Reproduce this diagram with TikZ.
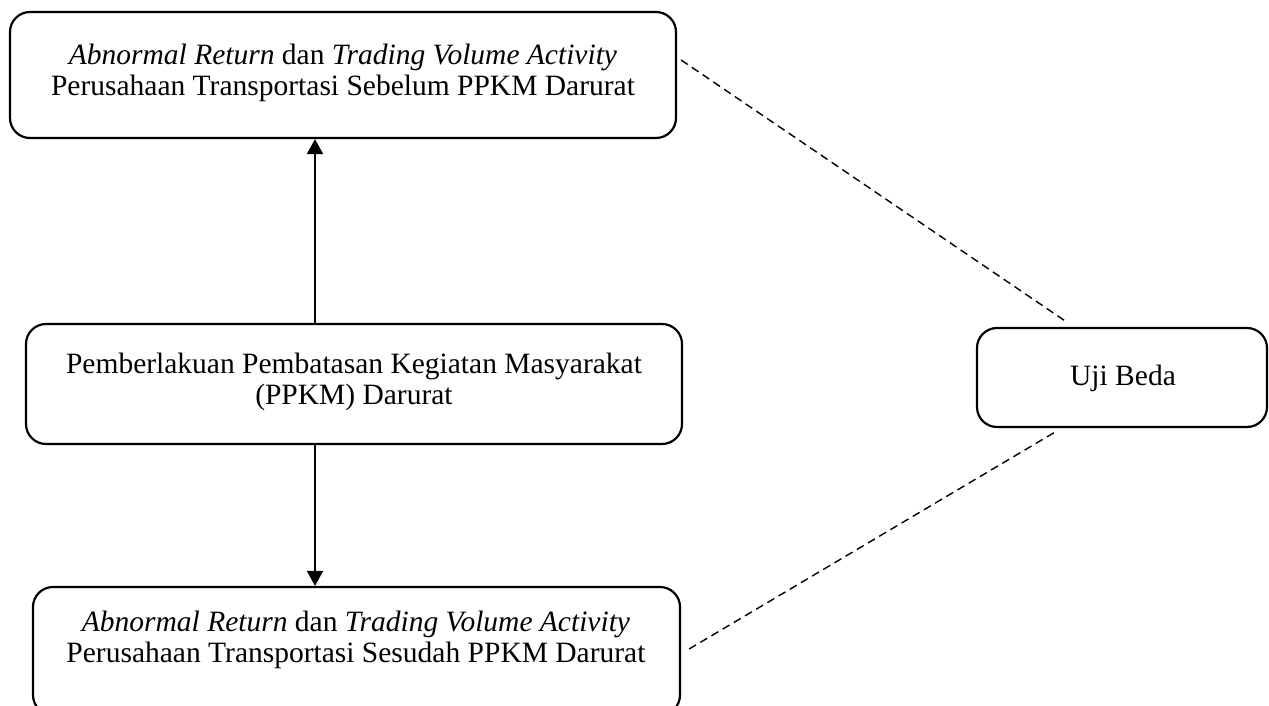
\documentclass[tikz,border=0pt]{standalone}
\usepackage{fontspec}
\setmainfont{Liberation Serif}
\usetikzlibrary{arrows.meta,calc}
\tikzset{
  box/.style={draw, line width=2.2pt, rounded corners=20pt, rectangle, inner sep=0pt},
  lbl/.style={align=center, font=\fontsize{29.5}{31}\selectfont, inner sep=0pt},
  arr/.style={line width=2pt, -{Triangle[length=15pt,width=16pt]}},
  dsh/.style={line width=1.4pt, dash pattern=on 8pt off 5pt}
}
\begin{document}
\begin{tikzpicture}[x=1pt,y=-1pt]
\useasboundingbox (0,0) rectangle (1269,706);
\node[box, minimum width=666pt, minimum height=126pt] (top) at (343,75) {};
\node[box, minimum width=656pt, minimum height=120pt] (mid) at (354,384) {};
\node[box, minimum width=647pt, minimum height=128pt] (bot) at (356.5,651) {};
\node[box, minimum width=290pt, minimum height=99pt] (uji) at (1122,377.5) {};
\node[lbl] (toptxt) at (343,73) {\textit{Abnormal Return} dan \textit{Trading Volume Activity}\\Perusahaan Transportasi Sebelum PPKM Darurat};
\node[lbl] (midtxt) at (354,382) {Pemberlakuan Pembatasan Kegiatan Masyarakat\\(PPKM) Darurat};
\node[lbl] (bottxt) at (356,640) {\textit{Abnormal Return} dan \textit{Trading Volume Activity}\\Perusahaan Transportasi Sesudah PPKM Darurat};
\node[lbl] (ujitxt) at (1123,378) {Uji Beda};
\coordinate (ax) at (315,0);
\draw[arr] (mid.north -| ax) -- (top.south -| ax);
\draw[arr] (mid.south -| ax) -- (bot.north -| ax);
\draw[dsh] ([xshift=4pt,yshift=15pt]top.east) -- ([xshift=-54pt,yshift=4pt]uji.north);
\draw[dsh] ([xshift=8pt,yshift=2pt]bot.east) -- ([xshift=-67pt,yshift=-4pt]uji.south);
\end{tikzpicture}
\end{document}
